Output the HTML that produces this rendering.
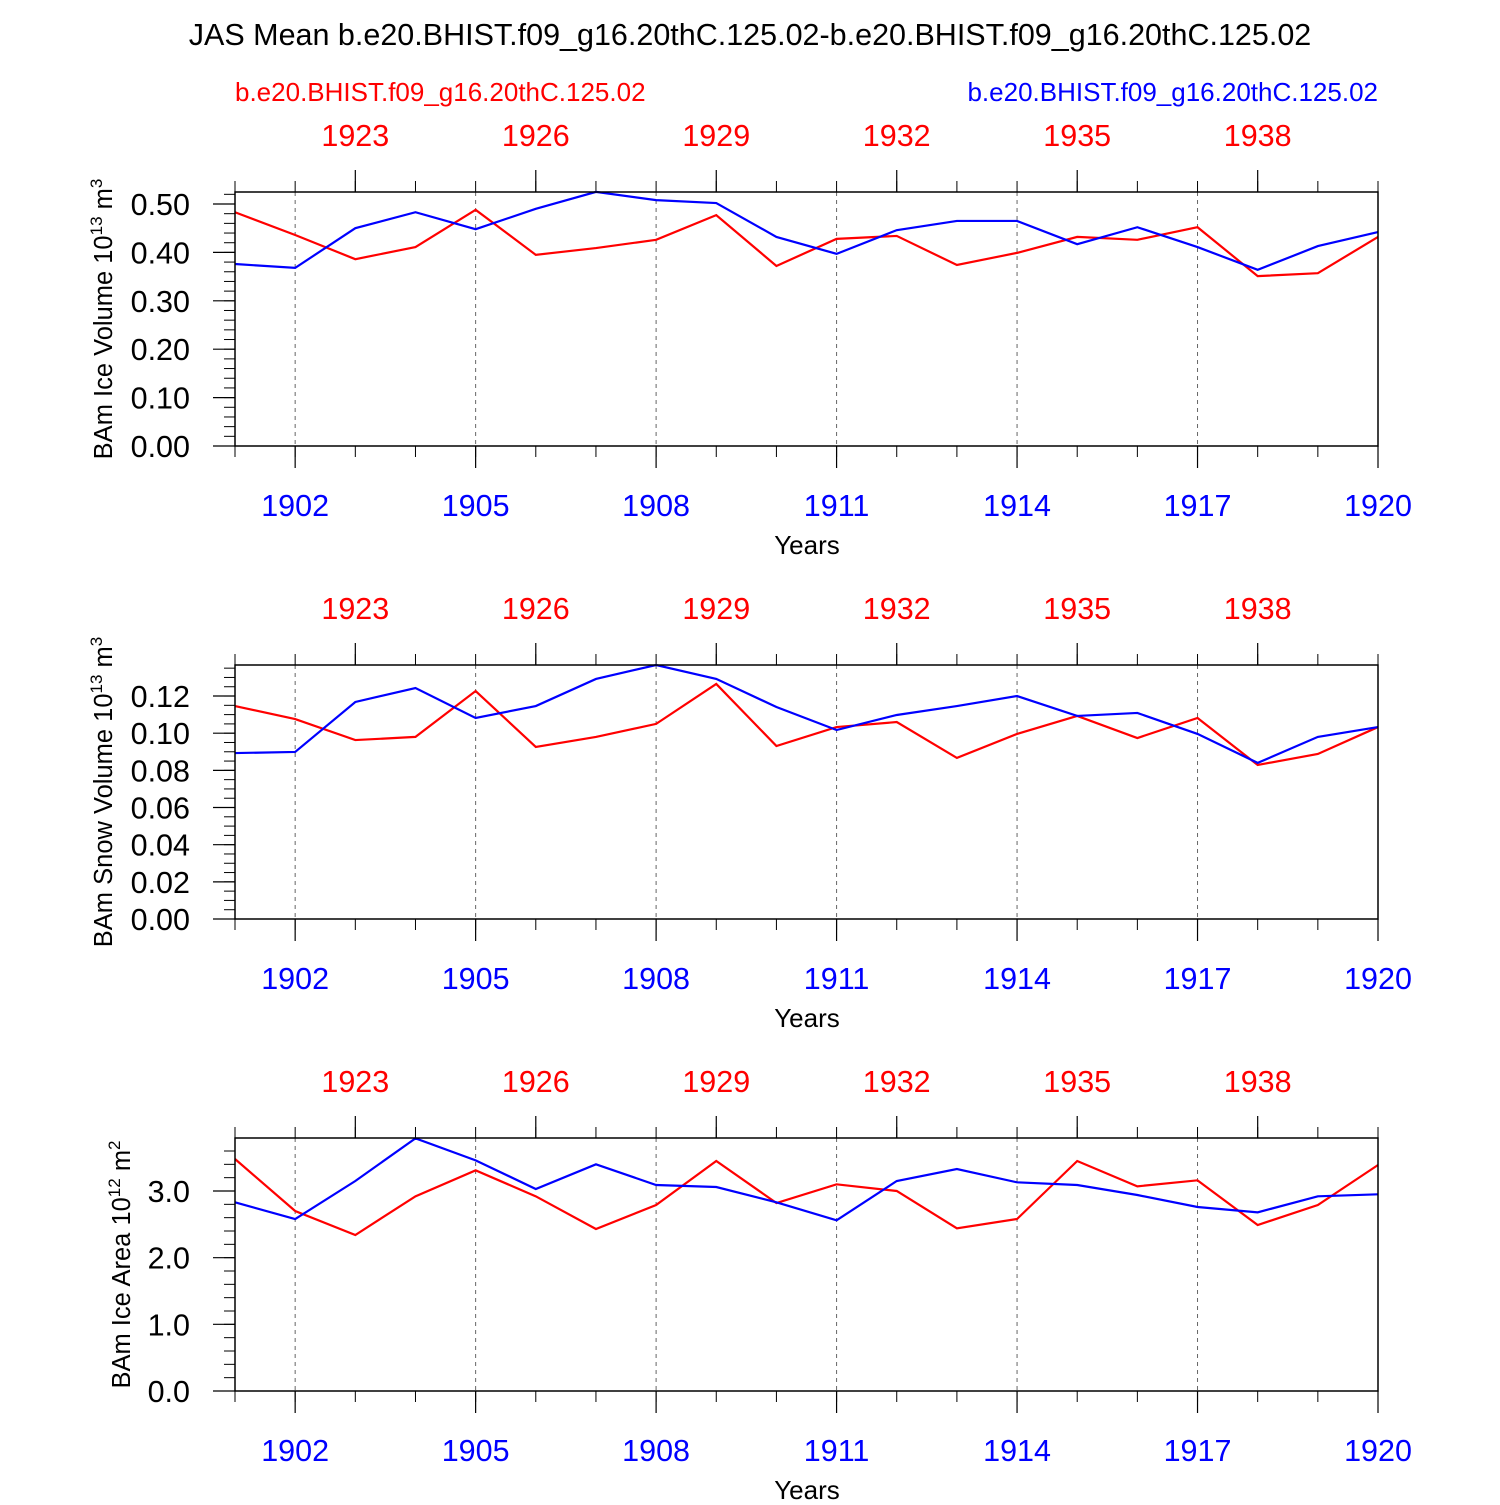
<!DOCTYPE html>
<html><head><meta charset="utf-8"><style>
body{margin:0;background:#fff;font-family:"Liberation Sans",sans-serif}
svg text{font-family:"Liberation Sans",sans-serif}
</style></head><body>
<svg id="c" width="1500" height="1500" xmlns="http://www.w3.org/2000/svg">
<text x="750" y="45" font-size="30.5" text-anchor="middle">JAS Mean b.e20.BHIST.f09_g16.20thC.125.02-b.e20.BHIST.f09_g16.20thC.125.02</text>
<text x="235" y="101" font-size="26" fill="#f00">b.e20.BHIST.f09_g16.20thC.125.02</text>
<text x="1378" y="101" font-size="26" fill="#00f" text-anchor="end">b.e20.BHIST.f09_g16.20thC.125.02</text>
</svg>
<script>
const years=[1901,1902,1903,1904,1905,1906,1907,1908,1909,1910,1911,1912,1913,1914,1915,1916,1917,1918,1919,1920];
const iceVolBlue=[0.376,0.368,0.450,0.483,0.448,0.490,0.525,0.508,0.502,0.432,0.397,0.446,0.465,0.465,0.417,0.452,0.411,0.364,0.413,0.442];
const iceVolRed=[0.483,0.436,0.386,0.411,0.488,0.395,0.409,0.426,0.477,0.372,0.428,0.434,0.374,0.399,0.432,0.426,0.452,0.351,0.357,0.432];
const snowVolBlue=[0.0893,0.0899,0.1168,0.1243,0.1082,0.1146,0.1292,0.1367,0.1292,0.1141,0.1017,0.1098,0.1146,0.1200,0.1093,0.1109,0.0996,0.0840,0.0980,0.1033];
const snowVolRed=[0.1146,0.1076,0.0963,0.0980,0.1227,0.0926,0.0980,0.1050,0.1265,0.0931,0.1033,0.1060,0.0867,0.0996,0.1093,0.0974,0.1082,0.0829,0.0888,0.1033];
const iceAreaBlue=[2.83,2.58,3.15,3.79,3.46,3.03,3.40,3.09,3.06,2.83,2.56,3.15,3.33,3.13,3.09,2.94,2.76,2.68,2.92,2.95];
const iceAreaRed=[3.48,2.70,2.34,2.92,3.31,2.92,2.43,2.79,3.45,2.82,3.10,3.00,2.44,2.58,3.45,3.07,3.16,2.49,2.79,3.39];
const bottomTicks=[1902,1905,1908,1911,1914,1917,1920];
const topTickOffset=20;
const panels=[
 {name:'ice-volume',top:192,bot:446,ymax:0.5248,ticks:[0,0.1,0.2,0.3,0.4,0.5],dec:2,minor:0.02,blue:iceVolBlue,red:iceVolRed,lab:'BAm Ice Volume 10',sup:'13',unit:' m',usup:'3',lx:112},
 {name:'snow-volume',top:665,bot:919,ymax:0.1367,ticks:[0,0.02,0.04,0.06,0.08,0.10,0.12],dec:2,minor:0.005,blue:snowVolBlue,red:snowVolRed,lab:'BAm Snow Volume 10',sup:'13',unit:' m',usup:'3',lx:112},
 {name:'ice-area',top:1138,bot:1391,ymax:3.795,ticks:[0,1,2,3],dec:1,minor:0.2,blue:iceAreaBlue,red:iceAreaRed,lab:'BAm Ice Area 10',sup:'12',unit:' m',usup:'2',lx:130}
];
const svg=document.getElementById('c');const NS='http://www.w3.org/2000/svg';
function mk(t,a,p){const e=document.createElementNS(NS,t);for(const k in a)e.setAttribute(k,a[k]);(p||svg).appendChild(e);return e;}
const X0=235,X1=1378;
const xs=y=>X0+(y-1901)*(X1-X0)/19;
panels.forEach(p=>{
 const g=mk('g',{});
 
 
 const ys=v=>p.bot-v*(p.bot-p.top)/p.ymax;
 bottomTicks.slice(0,6).forEach(y=>{const l=mk('line',{x1:xs(y),x2:xs(y),y1:p.top,y2:p.bot,stroke:'#666','stroke-width':1,'stroke-dasharray':'4,4'},g);
  });
 years.forEach(y=>{mk('line',{x1:xs(y),x2:xs(y),y1:p.bot,y2:p.bot+11,stroke:'#000','stroke-width':1},g);
  mk('line',{x1:xs(y),x2:xs(y),y1:p.top,y2:p.top-11,stroke:'#000','stroke-width':1},g);});
 bottomTicks.forEach(y=>{mk('line',{x1:xs(y),x2:xs(y),y1:p.bot,y2:p.bot+22,stroke:'#000','stroke-width':1.2},g);
  const t=mk('text',{x:xs(y),y:p.bot+70,'font-size':30.5,fill:'#00f','text-anchor':'middle'},g);t.textContent=y;
  });
 bottomTicks.slice(0,6).forEach(y=>{const yy=y+1;mk('line',{x1:xs(yy),x2:xs(yy),y1:p.top,y2:p.top-22,stroke:'#000','stroke-width':1.2},g);
  const t=mk('text',{x:xs(yy),y:p.top-46,'font-size':30.5,fill:'#f00','text-anchor':'middle'},g);t.textContent=yy+topTickOffset;
  });
 const xt=mk('text',{x:807,y:p.bot+108,'font-size':26,'text-anchor':'middle'},g);xt.textContent='Years';
 
 for(let v=0;v<=p.ymax+1e-9;v+=p.minor)mk('line',{x1:X0-11,x2:X0,y1:ys(v),y2:ys(v),stroke:'#000','stroke-width':1},g);
 p.ticks.forEach(v=>{mk('line',{x1:X0-22,x2:X0,y1:ys(v),y2:ys(v),stroke:'#000','stroke-width':1.2},g);
  const t=mk('text',{x:X0-45,y:ys(v)+11,'font-size':30.5,'text-anchor':'end'},g);t.textContent=v.toFixed(p.dec);
  });
 const cy=(p.top+p.bot)/2;
 const yt=mk('text',{x:p.lx,y:cy,'font-size':25.5,'text-anchor':'middle',transform:`rotate(-90 ${p.lx} ${cy})`},g);
 
 yt.innerHTML=`${p.lab}<tspan font-size="17" dy="-10">${p.sup}</tspan><tspan dy="10">${p.unit}</tspan><tspan font-size="17" dy="-10">${p.usup}</tspan>`;
 [['red','#f00'],['blue','#00f']].forEach(([n,c])=>{
  const pts=p[n].map((v,i)=>xs(years[i])+','+ys(v)).join(' ');
  const l=mk('polyline',{points:pts,fill:'none',stroke:c,'stroke-width':2.2},g);
  });
 const r=mk('rect',{x:X0,y:p.top,width:X1-X0,height:p.bot-p.top,fill:'none',stroke:'#000','stroke-width':1.5},g);
 
});
</script>
</body></html>
